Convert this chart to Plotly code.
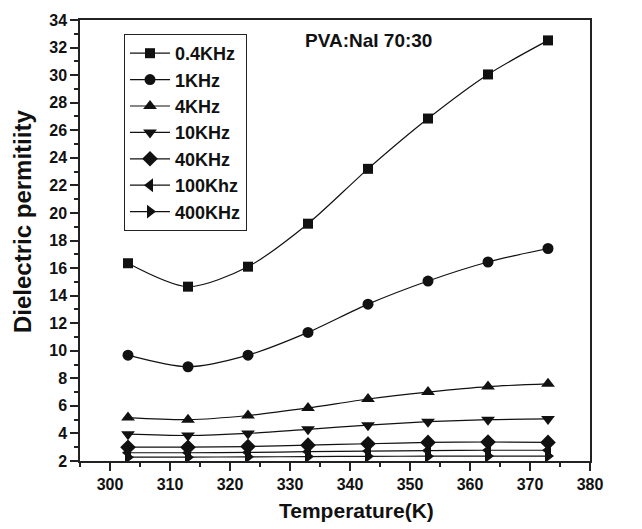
import plotly.graph_objects as go

temperature = [303, 313, 323, 333, 343, 353, 363, 373]
series_names = ["0.4KHz", "1KHz", "4KHz", "10KHz", "40KHz", "100Khz", "400KHz"]
eps_04k = [16.35, 14.65, 16.1, 19.22, 23.2, 26.85, 30.05, 32.52]
eps_1k = [9.68, 8.84, 9.68, 11.33, 13.38, 15.06, 16.44, 17.42]
eps_4k = [5.15, 5.0, 5.3, 5.85, 6.5, 7.0, 7.4, 7.6]
eps_10k = [3.95, 3.85, 4.0, 4.3, 4.6, 4.85, 5.0, 5.05]
eps_40k = [3.0, 3.0, 3.05, 3.15, 3.25, 3.35, 3.38, 3.35]
eps_100k = [2.6, 2.6, 2.62, 2.68, 2.72, 2.76, 2.78, 2.78]
eps_400k = [2.28, 2.28, 2.3, 2.32, 2.34, 2.35, 2.36, 2.36]
all_series = [eps_04k, eps_1k, eps_4k, eps_10k, eps_40k, eps_100k, eps_400k]
symbols = ["square", "circle", "triangle-up", "triangle-down", "diamond",
           "triangle-left", "triangle-right"]
sizes = [10, 11, 12, 12, 12, 12, 12]

FONT = "Liberation Sans, Arial, sans-serif"

fig = go.Figure()
for name, vals, sym, sz in zip(series_names, all_series, symbols, sizes):
    fig.add_trace(go.Scatter(
        x=temperature, y=vals, name=name, mode="lines+markers",
        line=dict(color="#111111", width=1.2, shape="spline", smoothing=0.8),
        marker=dict(symbol=sym, size=sz, color="#111111"),
    ))

axis_common = dict(
    showline=True, mirror=True, linecolor="#222222", linewidth=1.5,
    ticks="outside", ticklen=8, tickwidth=1.5, tickcolor="#222222",
    showgrid=False, zeroline=False,
    tickfont=dict(family=FONT, size=16, color="#111111", weight="bold"),
)

fig.update_xaxes(range=[295, 380], tick0=300, dtick=10,
                 minor=dict(dtick=5, ticks="outside", ticklen=4, tickwidth=1.5, tickcolor="#222222"),
                 **axis_common)
fig.update_yaxes(range=[2, 34], tick0=2, dtick=2,
                 minor=dict(dtick=1, ticks="outside", ticklen=4, tickwidth=1.5, tickcolor="#222222"),
                 **axis_common)

fig.add_annotation(text="Temperature(K)", xref="paper", yref="paper",
                   x=(356 - 80) / 510, y=-(510 - 461) / 441, showarrow=False,
                   xanchor="center", yanchor="middle",
                   font=dict(family=FONT, size=21, color="#111111", weight="bold"))
fig.add_annotation(text="Dielectric permitiity", xref="paper", yref="paper",
                   x=-(80 - 22) / 510, y=1 - (222 - 20) / 441, showarrow=False, textangle=-90,
                   xanchor="center", yanchor="middle",
                   font=dict(family=FONT, size=24, color="#111111", weight="bold"))
fig.add_annotation(text="PVA:NaI 70:30", xref="paper", yref="paper",
                   x=(368 - 80) / 510, y=1 - (40 - 20) / 441, showarrow=False,
                   xanchor="center", yanchor="middle",
                   font=dict(family=FONT, size=19, color="#111111", weight="bold"))

fig.update_layout(
    width=642, height=529,
    margin=dict(l=80, r=52, t=20, b=68),
    paper_bgcolor="white", plot_bgcolor="white",
    showlegend=True,
    legend=dict(x=(124 - 80) / 510, y=1 - (34 - 20) / 441, xanchor="left", yanchor="top",
                bordercolor="#222222", borderwidth=1, bgcolor="white",
                font=dict(family=FONT, size=18, color="#111111", weight="bold"),
                itemwidth=40, tracegroupgap=0),
)

fig.write_html("out.html")
